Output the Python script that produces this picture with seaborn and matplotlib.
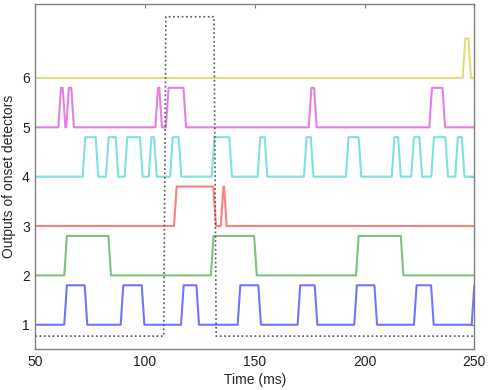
import matplotlib
matplotlib.use("Agg")
import matplotlib.pyplot as plt
import seaborn as sns
import pandas as pd

# ---- data ----
detectors = [1, 2, 3, 4, 5, 6]
colors = ["#7474ff", "#7cc47c", "#ff7f7f", "#7fe0e0", "#e47fe4", "#e0e07a"]
# pulses: (rise start, fall end) in ms
pulses_1 = [(63.2, 73.7), (88.9, 99.7), (116.4, 124.6), (142.2, 152.8),
            (169.5, 178.5), (195.3, 205.7), (222.5, 231.5), (248.8, 256.0)]
pulses_2 = [(63.2, 84.5), (130.0, 150.9), (196.1, 217.7)]
pulses_3 = [(113.2, 132.3), (134.5, 137.2)]
pulses_4 = [(71.6, 78.7), (82.2, 87.8), (90.7, 98.9), (101.7, 105.3),
            (111.4, 116.5), (130.4, 139.6), (151.3, 155.7), (172.4, 176.7),
            (191.5, 198.5), (212.4, 216.5), (221.3, 226.2), (230.4, 238.0),
            (241.3, 245.5)]
pulses_5 = [(60.5, 63.7), (64.1, 67.6), (104.7, 107.7), (109.5, 118.7),
            (174.6, 178.2), (229.5, 236.7)]
pulses_6 = [(244.7, 248.5)]
pulse_height = 0.8
ramp = 1.2
t_start, t_end = 50, 250

window_on, window_off = 108.5, 132.4
window_low, window_high = 0.77, 7.24

xticks = [50, 100, 150, 200, 250]
yticks = [1, 2, 3, 4, 5, 6]

# ---- build the trace table ----
rows = []
all_pulses = [pulses_1, pulses_2, pulses_3, pulses_4, pulses_5, pulses_6]
for det, plist in zip(detectors, all_pulses):
    base = det
    pts = [(t_start, base)]
    for t0, t1 in plist:
        pts += [(t0, base), (t0 + ramp, base + pulse_height),
                (t1 - ramp, base + pulse_height), (t1, base)]
    pts.append((max(t_end, plist[-1][1]), base))
    for i, (t, v) in enumerate(pts):
        rows.append({"time": t, "value": v, "detector": str(det), "order": i})
df = pd.DataFrame(rows)

win = pd.DataFrame({
    "time": [t_start, window_on, window_on + 1.0, window_off - 1.0, window_off, t_end],
    "value": [window_low, window_low, window_high, window_high, window_low, window_low],
})

sns.set_style("white")
plt.rcParams["font.family"] = ["Liberation Sans", "DejaVu Sans"]

fig = plt.figure(figsize=(4.9, 3.9), dpi=100)
ax = fig.add_axes([0.072, 0.104, 0.896, 0.886])

sns.lineplot(data=df, x="time", y="value", hue="detector",
             palette=dict(zip([str(d) for d in detectors], colors)),
             sort=False, estimator=None, linewidth=1.5, legend=False, ax=ax)
sns.lineplot(data=win, x="time", y="value", sort=False, estimator=None,
             color="#555555", linestyle=(0, (1, 1.6)), linewidth=1.2, ax=ax)

ax.set_xlim(50, 250)
ax.set_ylim(0.5, 7.5)
ax.set_xticks(xticks)
ax.set_yticks(yticks)
ax.set_xlabel("Time (ms)", fontsize=10, labelpad=3)
ax.set_ylabel("Outputs of onset detectors", fontsize=10, labelpad=4)
ax.tick_params(direction="in", length=3, width=0.8, color="#808080",
               labelsize=10, top=True, right=True, pad=4, labelcolor="#222222")
for sp in ax.spines.values():
    sp.set_color("#808080")
    sp.set_linewidth(1.0)

fig.savefig("out.png", dpi=100)
